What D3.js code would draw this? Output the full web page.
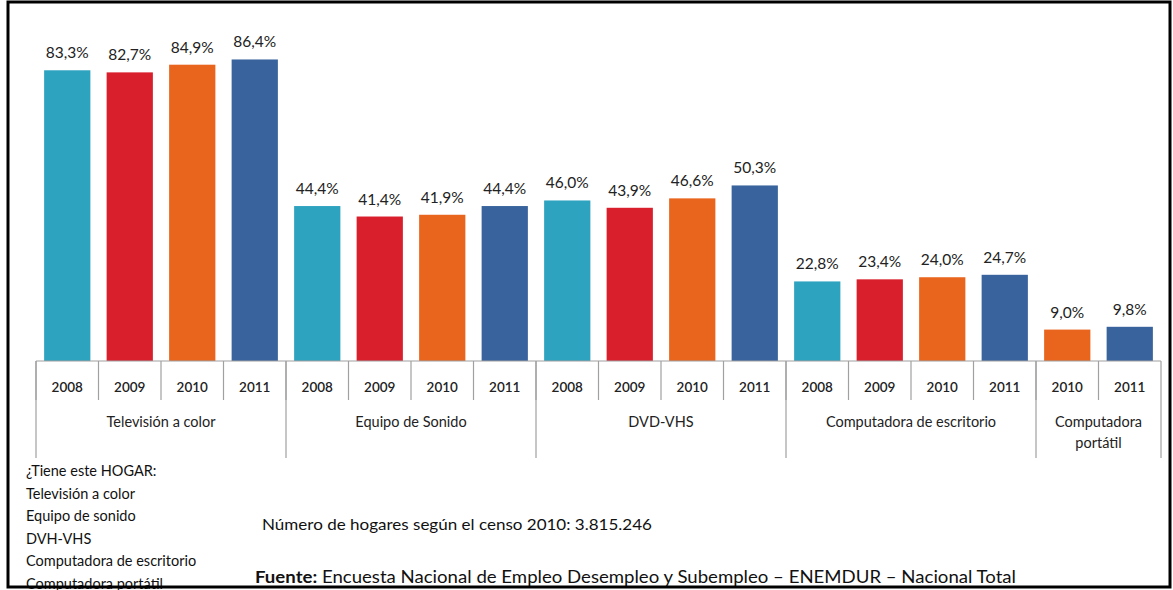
<!DOCTYPE html>
<html>
<head>
<meta charset="utf-8">
<script src="https://cdn.jsdelivr.net/npm/d3@7"></script>
<style>
  body { margin: 0; background: #fff; }
  svg { display: block; font-family: Lato, "Open Sans", sans-serif; }
</style>
</head>
<body>
<div id="chart"></div>
<script>
// Data
var groups = ["Televisión a color", "Equipo de Sonido", "DVD-VHS", "Computadora de escritorio", "Computadora portátil"];
var groupYears = [
    ["2008", "2009", "2010", "2011"],
    ["2008", "2009", "2010", "2011"],
    ["2008", "2009", "2010", "2011"],
    ["2008", "2009", "2010", "2011"],
    ["2010", "2011"]
];
var groupValues = [
    [83.3, 82.7, 84.9, 86.4],
    [44.4, 41.4, 41.9, 44.4],
    [46.0, 43.9, 46.6, 50.3],
    [22.8, 23.4, 24.0, 24.7],
    [9.0, 9.8]
];
var yearColors = {"2008": "#2ea3c0", "2009": "#da1f2c", "2010": "#e9651e", "2011": "#38639c"};
var notes = ["¿Tiene este HOGAR:", "Televisión a color", "Equipo de sonido", "DVH-VHS", "Computadora de escritorio", "Computadora portátil"];

var width = 1173, height = 590;
var axisY = 361;

//flatten into one row per bar
var bars = [];
groups.forEach(function(g, i) {
    groupYears[i].forEach(function(yr, j) {
        bars.push({group: g, year: yr, value: groupValues[i][j], key: g + "|" + yr});
    });
});

var svg = d3.select("#chart").append("svg")
    .attr("width", width)
    .attr("height", height);

let x = d3.scaleBand()
    .domain(bars.map(function(d) { return d.key; }))
    .range([36, 1161])
    .paddingInner(0.26)
    .paddingOuter(0.13);

let y = d3.scaleLinear()
    .domain([0, 100])
    .range([axisY, 12]);

let step = x.step();
let slotLeft = function(d) { return x(d.key) - step * 0.13; };

//bars
svg.append("g").selectAll("rect")
    .data(bars)
    .enter().append("rect")
    .attr("x", function(d) { return x(d.key); })
    .attr("y", function(d) { return y(d.value); })
    .attr("width", x.bandwidth())
    .attr("height", function(d) { return y(0) - y(d.value); })
    .attr("fill", function(d) { return yearColors[d.year]; });

//value labels
svg.append("g").selectAll("text")
    .data(bars)
    .enter().append("text")
    .attr("x", function(d) { return x(d.key) + x.bandwidth() / 2; })
    .attr("y", function(d) { return y(d.value) - 12; })
    .attr("text-anchor", "middle")
    .attr("font-size", 15.5)
    .attr("fill", "#222")
    .text(function(d) { return d.value.toFixed(1).replace(".", ",") + "%"; });

//axis line and dividers
let axisG = svg.append("g").attr("stroke", "#a0a0a0").attr("stroke-width", 1.2);
axisG.append("line")
    .attr("x1", 36).attr("x2", 1161)
    .attr("y1", axisY).attr("y2", axisY);

//year dividers
axisG.selectAll(".yd")
    .data(bars)
    .enter().append("line")
    .attr("x1", slotLeft).attr("x2", slotLeft)
    .attr("y1", axisY).attr("y2", 400);

//group dividers (first bar of each group and right end)
let groupStarts = groups.map(function(g) {
    return slotLeft(bars.find(function(b) { return b.group == g; }));
});
groupStarts.push(36 + step * bars.length);
axisG.selectAll(".gd")
    .data(groupStarts)
    .enter().append("line")
    .attr("x1", function(d) { return d; }).attr("x2", function(d) { return d; })
    .attr("y1", axisY).attr("y2", 458);

//year tick labels
svg.append("g").selectAll("text")
    .data(bars)
    .enter().append("text")
    .attr("x", function(d) { return x(d.key) + x.bandwidth() / 2; })
    .attr("y", 392)
    .attr("text-anchor", "middle")
    .attr("font-size", 13.5)
    .attr("font-weight", 600)
    .attr("fill", "#222")
    .text(function(d) { return d.year; });

//group labels
let groupLab = svg.append("g");
groups.forEach(function(g, i) {
    let cx = (groupStarts[i] + groupStarts[i + 1]) / 2;
    let lines = g == "Computadora portátil" ? ["Computadora", "portátil"] : [g];
    lines.forEach(function(l, k) {
        groupLab.append("text")
            .attr("x", cx)
            .attr("y", 427 + k * 21)
            .attr("text-anchor", "middle")
            .attr("font-size", 14.5)
            .attr("fill", "#222")
            .text(l);
    });
});

//notes on the left
svg.append("g").selectAll("text")
    .data(notes)
    .enter().append("text")
    .attr("x", 26)
    .attr("y", function(d, i) { return 476 + i * 22.6; })
    .attr("font-size", 14.5)
    .attr("fill", "#111")
    .text(function(d) { return d; });

svg.append("text")
    .attr("x", 262).attr("y", 530)
    .attr("font-size", 15)
    .attr("fill", "#111")
    .attr("textLength", 390)
    .attr("lengthAdjust", "spacingAndGlyphs")
    .text("Número de hogares según  el censo 2010:  3.815.246");

let src = svg.append("text")
    .attr("x", 255).attr("y", 583)
    .attr("font-size", 17.5)
    .attr("fill", "#111")
    .attr("textLength", 761)
    .attr("lengthAdjust", "spacingAndGlyphs");
src.append("tspan").attr("font-weight", 700).text("Fuente:");
src.append("tspan").text(" Encuesta Nacional de Empleo Desempleo y Subempleo – ENEMDUR – Nacional  Total");

//frame
svg.append("rect")
    .attr("x", 8).attr("y", 2)
    .attr("width", 1162).attr("height", 585)
    .attr("fill", "none")
    .attr("stroke", "#000")
    .attr("stroke-width", 3);
</script>
</body>
</html>
